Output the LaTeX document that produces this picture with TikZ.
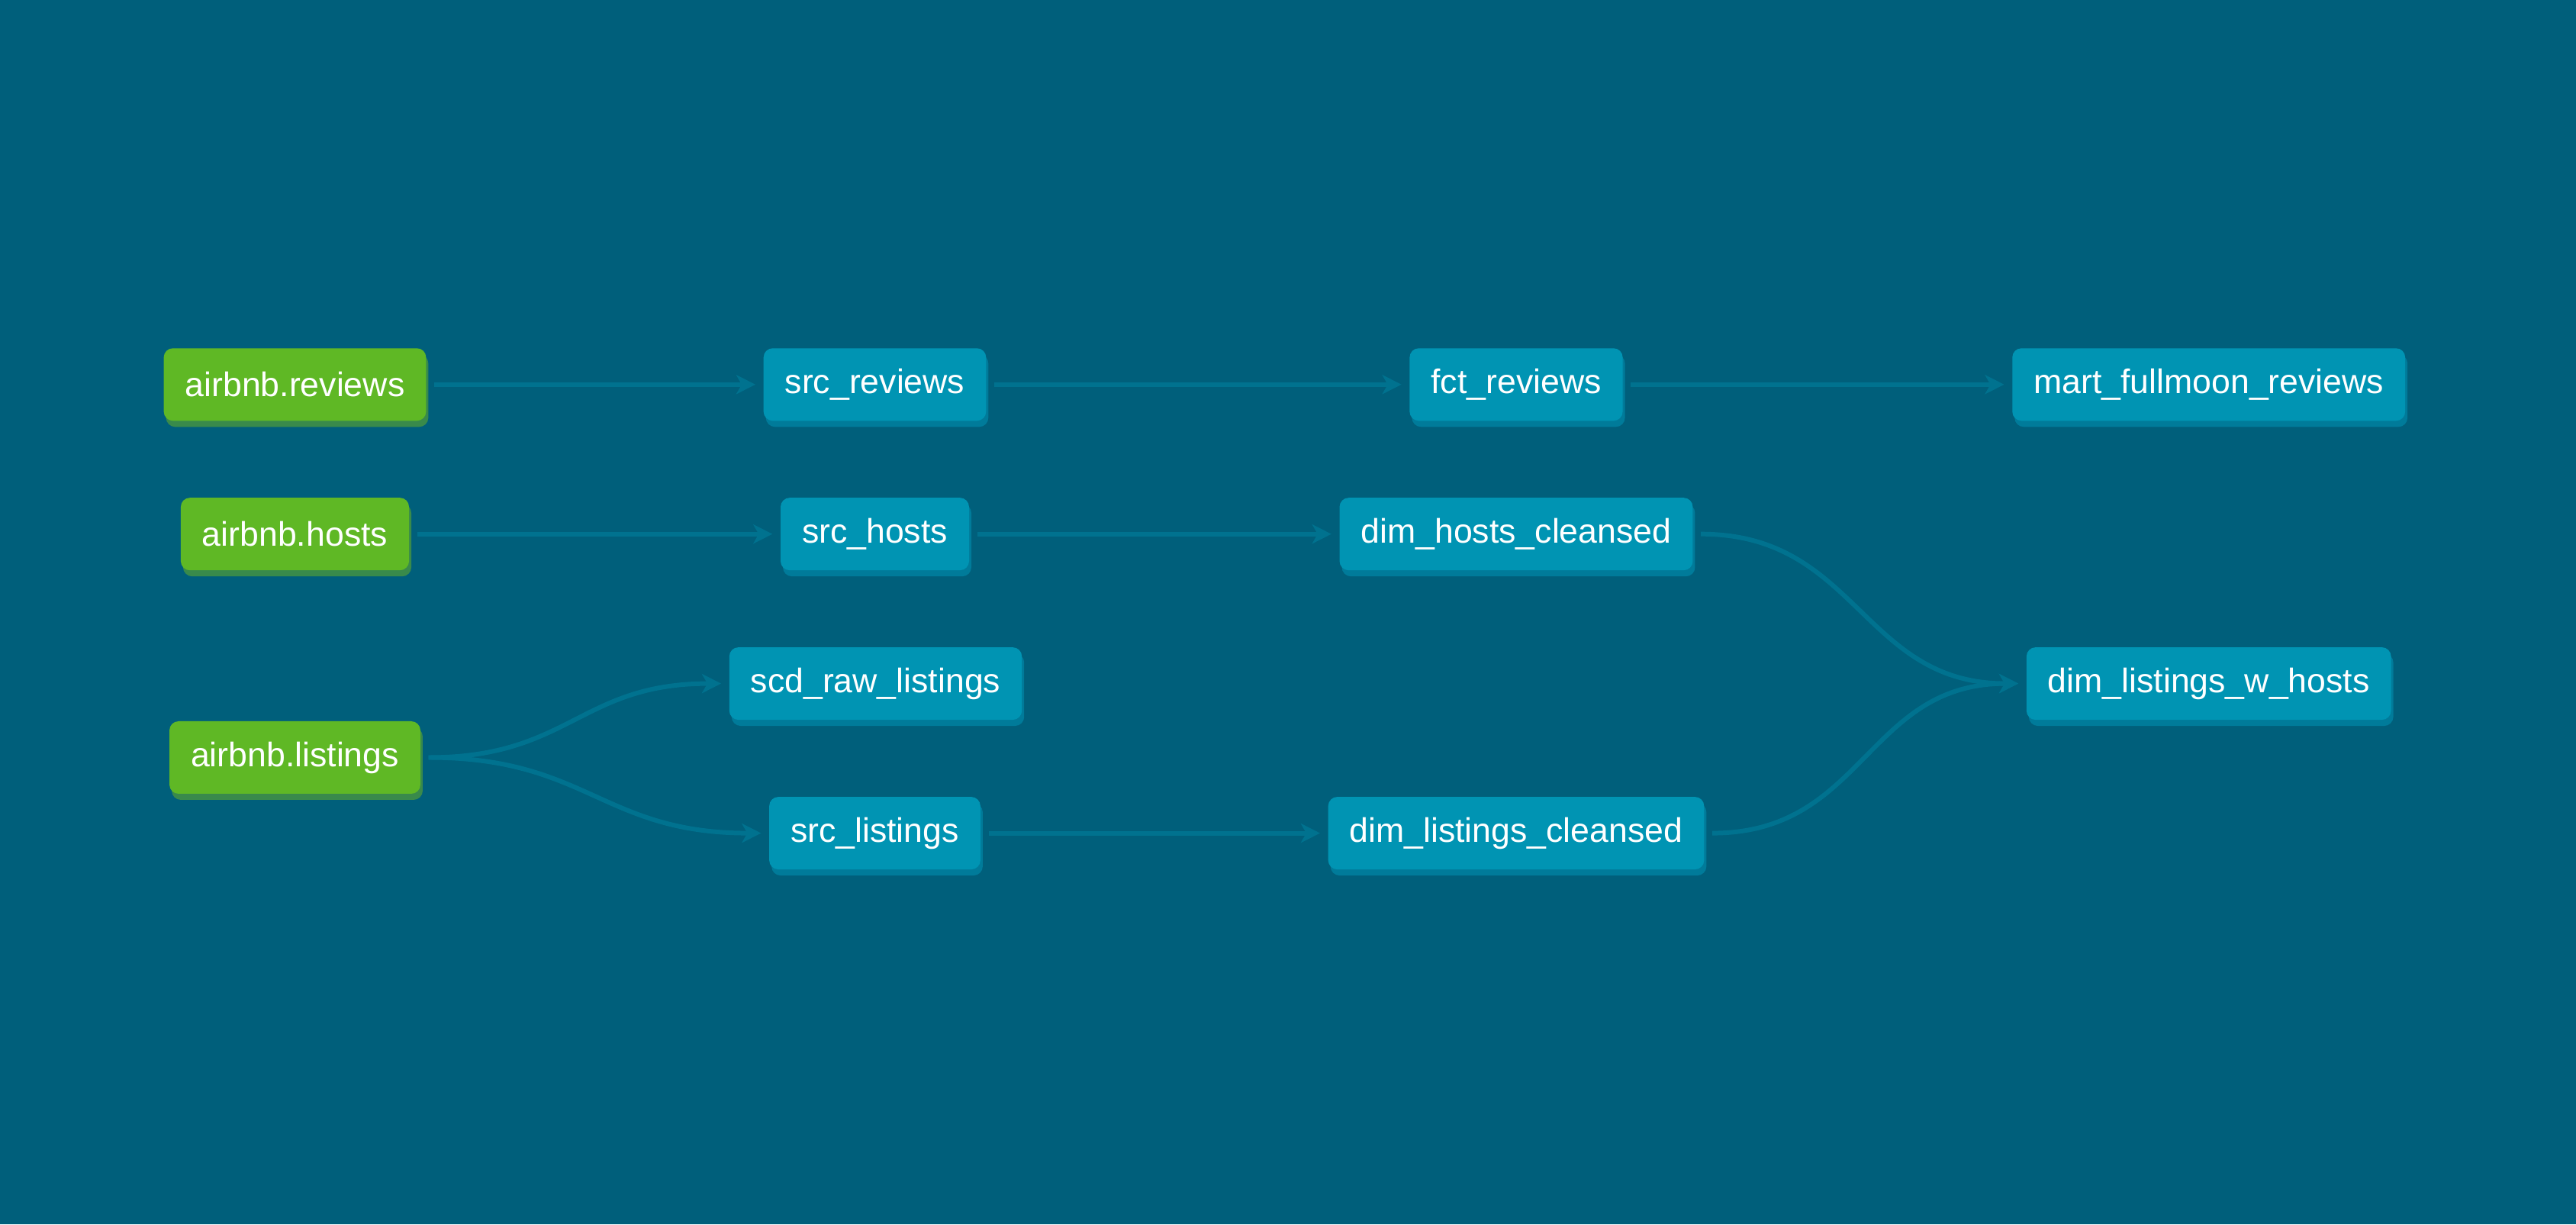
\documentclass[tikz,border=0pt]{standalone}
\usepackage{fontspec}
\setmainfont{Liberation Sans}
\usetikzlibrary{arrows.meta,shadows}

\definecolor{bgcol}{HTML}{005F7B}
\definecolor{edgecol}{HTML}{00728F}
\definecolor{srccol}{HTML}{5FB825}
\definecolor{srcshadow}{HTML}{398A4B}
\definecolor{modelcol}{HTML}{0094B3}
\definecolor{modelshadow}{HTML}{007B9A}

\begin{document}
\begin{tikzpicture}[
      font=\fontsize{12.7pt}{15pt}\selectfont,
      every node/.style={text=white,rounded corners=0.12cm,minimum height=0.95cm,inner xsep=0.28cm},
      source/.style={fill=srccol,drop shadow={shadow xshift=0.03cm,shadow yshift=-0.08cm,fill=srcshadow,opacity=1}},
      model/.style={fill=modelcol,drop shadow={shadow xshift=0.03cm,shadow yshift=-0.08cm,fill=modelshadow,opacity=1}},
      flow/.style={draw=edgecol,line width=1.7pt,shorten <=0.1cm,shorten >=0.1cm,
        -{Stealth[length=0.25cm,width=0.25cm,inset=0.07cm]}}]
    \useasboundingbox (0,0) rectangle (33.76,16.04);
    \fill[bgcol] (0,0) rectangle (33.76,16.04);

    % sources
    \node [source] (reviews) at (3.865,11.002) {airbnb.reviews};
    \node [source] (hosts) at (3.865,9.043) {airbnb.hosts};
    \node [source] (listings) at (3.865,6.115) {airbnb.listings};

    % staging
    \node [model] (src_reviews) at (11.465,11.002) {src\_reviews};
    \node [model] (src_hosts) at (11.465,9.043) {src\_hosts};
    \node [model] (scd_raw) at (11.475,7.084) {scd\_raw\_listings};
    \node [model] (src_listings) at (11.465,5.124) {src\_listings};

    % core
    \node [model] (fct_reviews) at (19.87,11.002) {fct\_reviews};
    \node [model] (dim_hosts) at (19.87,9.043) {dim\_hosts\_cleansed};
    \node [model] (dim_listings) at (19.87,5.124) {dim\_listings\_cleansed};

    % marts
    \node [model] (mart) at (28.947,11.002) {mart\_fullmoon\_reviews};
    \node [model] (dim_w_hosts) at (28.947,7.084) {dim\_listings\_w\_hosts};

    \draw [flow] (reviews.east) -- (src_reviews.west);
    \draw [flow] (src_reviews.east) -- (fct_reviews.west);
    \draw [flow] (fct_reviews.east) -- (mart.west);
    \draw [flow] (hosts.east) -- (src_hosts.west);
    \draw [flow] (src_hosts.east) -- (dim_hosts.west);
    \draw [flow] (src_listings.east) -- (dim_listings.west);
    \draw [flow] (listings.east) to [out=0,in=180,looseness=1.2] (scd_raw.west);
    \draw [flow] (listings.east) to [out=0,in=180,looseness=1.2] (src_listings.west);
    \draw [flow] (dim_hosts.east) to [out=0,in=180,looseness=1.15] (dim_w_hosts.west);
    \draw [flow] (dim_listings.east) to [out=0,in=180,looseness=1.15] (dim_w_hosts.west);

  \end{tikzpicture}
\end{document}
